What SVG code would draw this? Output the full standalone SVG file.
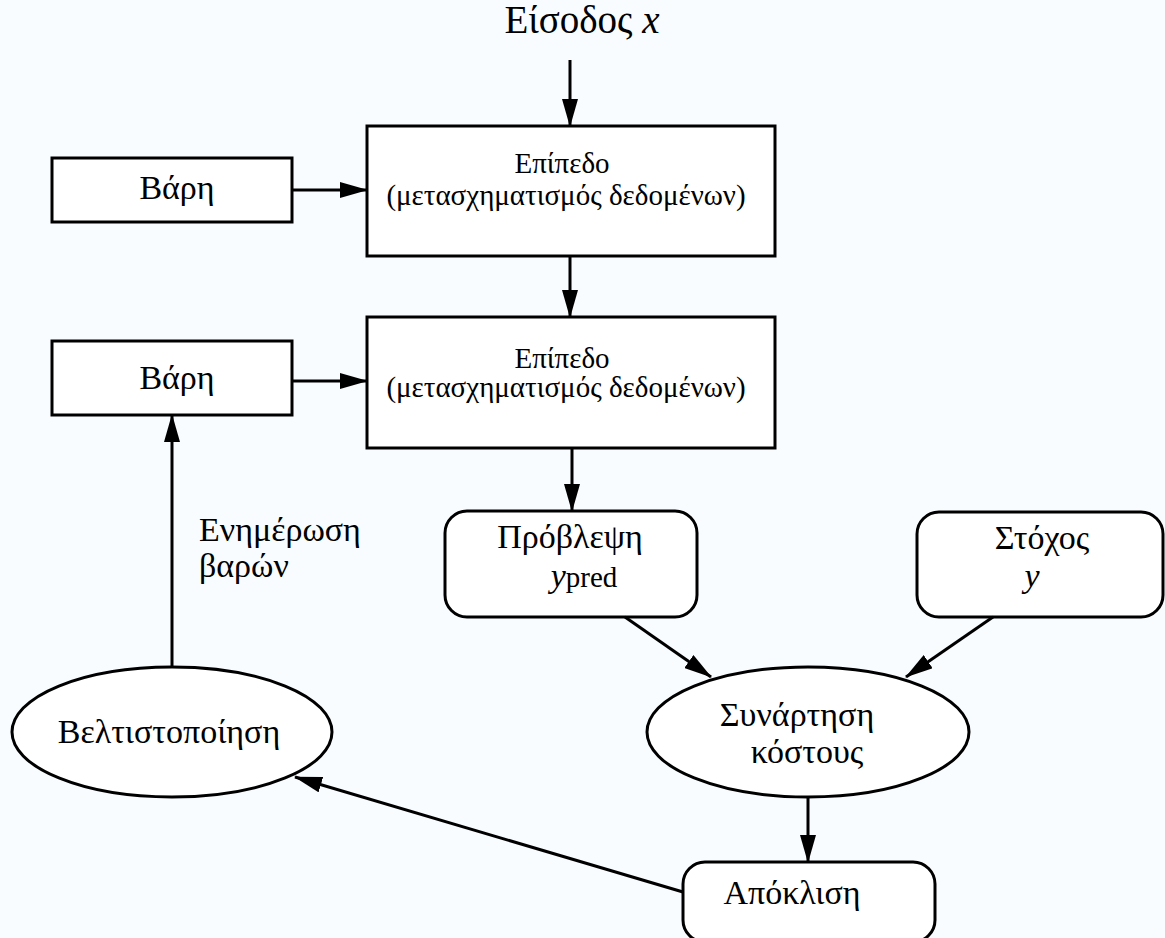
<svg xmlns="http://www.w3.org/2000/svg" width="1165" height="938" viewBox="0 0 1165 938">
  <style>
    .box { fill: #ffffff; stroke: #000; stroke-width: 3; }
    .edge { stroke: #000; stroke-width: 3; fill: none; marker-end: url(#arrow); }
    text { font-family: "Liberation Serif", "Times New Roman", serif; fill: #000; text-anchor: middle; }
    .t29 { font-size: 29px; }
    .t34 { font-size: 34px; }
  </style>
  <defs>
    <marker id="arrow" markerUnits="userSpaceOnUse" markerWidth="28" markerHeight="16" refX="27" refY="8" orient="auto">
      <path d="M0,0 L28,8 L0,16 Z" fill="#000"/>
    </marker>
  </defs>
  <rect width="1165" height="938" fill="#f9fcfe"/>

  <!-- input label -->
  <g id="input">
    <text x="582" y="33" style="font-size:39px">Είσοδος <tspan font-style="italic">x</tspan></text>
  </g>

  <!-- layer 1 -->
  <g id="layer1">
    <rect class="box" x="367" y="126" width="408" height="130"/>
    <text class="t29"><tspan x="562" y="173">Επίπεδο</tspan><tspan x="566" y="205">(μετασχηματισμός δεδομένων)</tspan></text>
  </g>

  <!-- weights 1 -->
  <g id="weights1">
    <rect class="box" x="52" y="158" width="240" height="64"/>
    <text class="t34" x="177" y="199">Βάρη</text>
  </g>

  <!-- layer 2 -->
  <g id="layer2">
    <rect class="box" x="367" y="317" width="408" height="131"/>
    <text class="t29"><tspan x="562" y="368">Επίπεδο</tspan><tspan x="566" y="397">(μετασχηματισμός δεδομένων)</tspan></text>
  </g>

  <!-- weights 2 -->
  <g id="weights2">
    <rect class="box" x="52" y="341" width="240" height="74"/>
    <text class="t34" x="177" y="389">Βάρη</text>
  </g>

  <!-- prediction -->
  <g id="prediction">
    <rect class="box" x="445" y="511" width="252" height="106" rx="22" ry="22"/>
    <text class="t34"><tspan x="570" y="548">Πρόβλεψη</tspan><tspan x="584" y="587"><tspan font-style="italic">y</tspan><tspan style="font-size:29px">pred</tspan></tspan></text>
  </g>

  <!-- target -->
  <g id="target">
    <rect class="box" x="917" y="512" width="246" height="105" rx="22" ry="22"/>
    <text class="t34"><tspan x="1042" y="549">Στόχος</tspan><tspan x="1032" y="587" font-style="italic">y</tspan></text>
  </g>

  <!-- cost function -->
  <g id="cost">
    <ellipse class="box" cx="808" cy="732" rx="161" ry="65"/>
    <text class="t34"><tspan x="797" y="726">Συνάρτηση</tspan><tspan x="807" y="763">κόστους</tspan></text>
  </g>

  <!-- loss -->
  <g id="loss">
    <rect class="box" x="683" y="862" width="252" height="80" rx="22" ry="22"/>
    <text class="t34" x="792" y="904">Απόκλιση</text>
  </g>

  <!-- optimizer -->
  <g id="optimizer">
    <ellipse class="box" cx="172" cy="732" rx="160" ry="65"/>
    <text class="t34" x="169" y="743">Βελτιστοποίηση</text>
  </g>

  <!-- update label -->
  <g id="update-label">
    <text class="t34" style="text-anchor:start"><tspan x="199" y="541">Ενημέρωση</tspan><tspan x="199" y="577">βαρών</tspan></text>
  </g>

  <!-- connectors -->
  <g id="edges">
    <line class="edge" x1="570" y1="60" x2="570" y2="126"/>
    <line class="edge" x1="292" y1="190" x2="367" y2="190"/>
    <line class="edge" x1="570" y1="256" x2="570" y2="317"/>
    <line class="edge" x1="292" y1="381" x2="367" y2="381"/>
    <line class="edge" x1="572" y1="448" x2="572" y2="511"/>
    <line class="edge" x1="625" y1="617" x2="711" y2="677"/>
    <line class="edge" x1="993" y1="617" x2="906" y2="677"/>
    <line class="edge" x1="808" y1="797" x2="808" y2="862"/>
    <line class="edge" x1="683" y1="892" x2="295" y2="777"/>
    <line class="edge" x1="172" y1="667" x2="172" y2="415"/>
  </g>
</svg>
